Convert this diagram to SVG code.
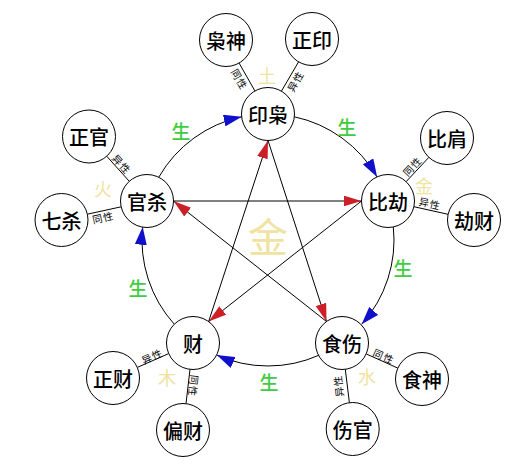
<svg xmlns="http://www.w3.org/2000/svg" width="532" height="464" viewBox="0 0 532 464">
<style>
.n{fill:#fff;stroke:#000;stroke-width:1}
.t{font-family:"Noto Sans CJK SC","Noto Sans",sans-serif;font-size:20px;font-weight:500;fill:#000;text-anchor:middle;dominant-baseline:central}
.s{font-family:"Noto Sans CJK SC","Noto Sans",sans-serif;font-size:10px;fill:#000;text-anchor:middle;dominant-baseline:central;letter-spacing:1px}
.e{font-family:"Noto Sans CJK SC","Noto Sans",sans-serif;font-size:18px;fill:#f0e3a2;text-anchor:middle;dominant-baseline:central}
.g{font-family:"Noto Sans CJK SC","Noto Sans",sans-serif;font-size:19px;font-weight:500;fill:#3fcc3f;text-anchor:middle;dominant-baseline:central}
.c{fill:none;stroke:#000;stroke-width:1}
.arc{marker-end:url(#blue)}
.star{marker-end:url(#red)}
</style>
<defs>
<marker id="blue" markerUnits="userSpaceOnUse" viewBox="-18 -6 18 12" markerWidth="18" markerHeight="12" refX="0" refY="0" orient="auto"><path d="M0,0 L-18,-6 L-18,6 Z" fill="#1010cc"/></marker>
<marker id="red" markerUnits="userSpaceOnUse" viewBox="-18 -5.5 18 11" markerWidth="18" markerHeight="11" refX="0" refY="0" orient="auto"><path d="M0,0 L-18,-5.5 L-18,5.5 Z" fill="#cc1f28"/></marker>
</defs>
<rect width="532" height="464" fill="#fff"/>
<g id="labels-elements">
<text class="e" x="268" y="235" style="font-size:40px">金</text>
<text class="e" x="267" y="75">土</text>
<text class="e" x="103" y="188">火</text>
<text class="e" x="424" y="185">金</text>
<text class="e" x="167" y="377">木</text>
<text class="e" x="367" y="376">水</text>
</g>
<g id="connectors">
<path class="c arc" d="M294.20,116.76 A126,126 0 0 1 377.12,177.00"/>
<path class="c arc" d="M393.31,226.83 A126,126 0 0 1 361.63,324.31"/>
<path class="c arc" d="M319.25,355.10 A126,126 0 0 1 216.75,355.10"/>
<path class="c arc" d="M174.37,324.31 A126,126 0 0 1 142.69,226.83"/>
<path class="c arc" d="M158.88,177.00 A126,126 0 0 1 241.80,116.76"/>
<path class="c star" d="M268,140.5 L326.5,321.5"/>
<path class="c star" d="M326.5,321.5 L173.5,201"/>
<path class="c star" d="M173.5,201 L361.5,201"/>
<path class="c star" d="M361.5,201 L208.6,321.6"/>
<path class="c star" d="M208.6,321.6 L268,140.5"/>
<line class="c" x1="254.9" y1="90.9" x2="239.1" y2="63.1"/>
<line class="c" x1="281.4" y1="91.2" x2="298.6" y2="61.8"/>
<line class="c" x1="129.3" y1="181.3" x2="106.7" y2="156.2"/>
<line class="c" x1="121.1" y1="206.8" x2="87.4" y2="214.2"/>
<line class="c" x1="406.1" y1="181.7" x2="428.9" y2="157.3"/>
<line class="c" x1="413.9" y1="206.7" x2="448.1" y2="214.3"/>
<line class="c" x1="168.7" y1="353.6" x2="137.3" y2="367.4"/>
<line class="c" x1="190" y1="369.3" x2="186" y2="403.7"/>
<line class="c" x1="366.2" y1="353.9" x2="397.8" y2="368.1"/>
<line class="c" x1="345.3" y1="369.3" x2="349.4" y2="402.7"/>
<text class="s" transform="translate(240,79) rotate(60)">同性</text>
<text class="s" transform="translate(295,81) rotate(-60)">异性</text>
<text class="s" transform="translate(122,164) rotate(48)">异性</text>
<text class="s" transform="translate(103,217) rotate(-12.5)">同性</text>
<text class="s" transform="translate(412,166) rotate(-47)">同性</text>
<text class="s" transform="translate(430,203) rotate(12.5)">异性</text>
<text class="s" transform="translate(152,356) rotate(-23.6)">异性</text>
<text class="s" transform="translate(194,386) rotate(96.6)">同性</text>
<text class="s" transform="translate(384,356) rotate(24.2)">同性</text>
<text class="s" transform="translate(338,386) rotate(-97)">异性</text>
<text class="g" x="181" y="130">生</text>
<text class="g" x="347" y="126">生</text>
<text class="g" x="403" y="267">生</text>
<text class="g" x="269" y="381">生</text>
<text class="g" x="138" y="287">生</text>
</g>
<g id="node-yinxiao"><circle class="n" cx="268" cy="114" r="26.5"/><text class="t" x="268" y="114">印枭</text></g>
<g id="node-bijie"><circle class="n" cx="388" cy="201" r="26.5"/><text class="t" x="388" y="201">比劫</text></g>
<g id="node-shishang"><circle class="n" cx="342" cy="343" r="26.5"/><text class="t" x="342" y="343">食伤</text></g>
<g id="node-cai"><circle class="n" cx="193" cy="343" r="26.5"/><text class="t" x="193" y="343">财</text></g>
<g id="node-guansha"><circle class="n" cx="147" cy="201" r="26.5"/><text class="t" x="147" y="201">官杀</text></g>
<g id="node-xiaoshen"><circle class="n" cx="226" cy="40" r="26.5"/><text class="t" x="226" y="40">枭神</text></g>
<g id="node-zhengyin"><circle class="n" cx="312" cy="39" r="26.5"/><text class="t" x="312" y="39">正印</text></g>
<g id="node-zhengguan"><circle class="n" cx="89" cy="136.5" r="26.5"/><text class="t" x="89" y="136.5">正官</text></g>
<g id="node-qisha"><circle class="n" cx="61.5" cy="220" r="26.5"/><text class="t" x="61.5" y="220">七杀</text></g>
<g id="node-bijian"><circle class="n" cx="447" cy="138" r="26.5"/><text class="t" x="447" y="138">比肩</text></g>
<g id="node-jiecai"><circle class="n" cx="474" cy="220" r="26.5"/><text class="t" x="474" y="220">劫财</text></g>
<g id="node-zhengcai"><circle class="n" cx="113" cy="378" r="26.5"/><text class="t" x="113" y="378">正财</text></g>
<g id="node-piancai"><circle class="n" cx="183" cy="430" r="26.5"/><text class="t" x="183" y="430">偏财</text></g>
<g id="node-shishen"><circle class="n" cx="422" cy="379" r="26.5"/><text class="t" x="422" y="379">食神</text></g>
<g id="node-shangguan"><circle class="n" cx="352.7" cy="429" r="26.5"/><text class="t" x="352.7" y="429">伤官</text></g>
</svg>
